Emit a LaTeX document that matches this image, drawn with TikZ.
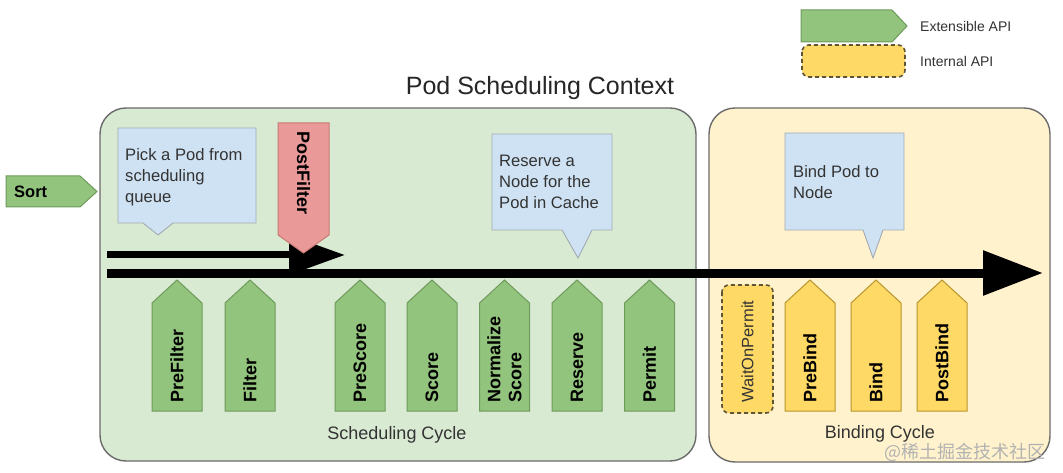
\documentclass[tikz,border=0pt]{standalone}
\usepackage{fontspec}
\setmainfont{Liberation Sans}
\newfontfamily\cjkfont{Noto Sans CJK SC}
\usetikzlibrary{arrows.meta}
\definecolor{boxline}{HTML}{6B6B6B}
\definecolor{schedfill}{HTML}{D9EAD3}
\definecolor{bindfill}{HTML}{FFF2CC}
\definecolor{stepgreen}{HTML}{93C47D}
\definecolor{stepgreenline}{HTML}{6E9A5C}
\definecolor{stepyellow}{HTML}{FFD966}
\definecolor{stepyellowline}{HTML}{B8962E}
\definecolor{postred}{HTML}{EA9999}
\definecolor{postredline}{HTML}{C77A74}
\definecolor{calloutblue}{HTML}{CFE2F3}
\definecolor{calloutline}{HTML}{A3ABB3}
\definecolor{textgray}{HTML}{333333}
\definecolor{dashline}{HTML}{5E5436}
\tikzset{
  ctxbox/.style={draw=boxline, line width=1.4pt, rounded corners=26pt},
  extshape/.style={fill=stepgreen, draw=stepgreenline, line width=1pt},
  intshape/.style={fill=stepyellow, draw=stepyellowline, line width=1pt},
  internalbox/.style={fill=stepyellow, draw=dashline, line width=1.6pt, dashed, dash pattern=on 4pt off 3pt, rounded corners=7pt},
  postshape/.style={fill=postred, draw=postredline, line width=1pt},
  calloutshape/.style={fill=calloutblue, draw=calloutline, line width=0.9pt},
  callouttext/.style={anchor=north west, align=left, inner sep=0pt, font=\fontsize{16.6}{21}\selectfont, text=textgray},
  steplabel/.style={rotate=90, anchor=west, inner sep=0pt, align=left, font=\fontsize{18}{21}\selectfont\bfseries},
  cyclelabel/.style={inner sep=0pt, font=\fontsize{18}{20}\selectfont, text=textgray},
  legendtext/.style={anchor=west, inner sep=0pt, font=\fontsize{14}{16}\selectfont, text=textgray},
  flowline/.style={draw=black},
}
\newcommand\upstep[4]{%
  \draw[#3] (#2-25,411) -- (#2-25,303) -- (#2,280) -- (#2+25,303) -- (#2+25,411) -- cycle;
  \node[steplabel] (#1) at (#2,403) {#4};
}
\begin{document}
\begin{tikzpicture}[x=1pt,y=-1pt]
\useasboundingbox (0,0) rectangle (1063,473);
\fill[white] (0,0) rectangle (1063,473);

% legend
\draw[extshape] (801,10) -- (892,10) -- (907,26) -- (892,42) -- (801,42) -- cycle;
\node[legendtext] (legext) at (920,26) {Extensible API};
\draw[internalbox] (802,45) rectangle (905,77);
\node[legendtext] (legint) at (920,61) {Internal API};

% title
\node[inner sep=0pt, font=\fontsize{25}{28}\selectfont, text=black!85] (title) at (540,88) {Pod Scheduling Context};

% context boxes
\draw[ctxbox, fill=schedfill] (100,108) rectangle (696,461);
\draw[ctxbox, fill=bindfill] (709,108) rectangle (1050,462);

% Sort
\draw[extshape] (6,176) -- (80,176) -- (97,191.5) -- (80,207) -- (6,207) -- cycle;
\node[anchor=west, inner sep=0pt, font=\fontsize{16.5}{18}\selectfont\bfseries] (sort) at (14,192) {Sort};

% callouts
\draw[calloutshape] (118,128) -- (256,128) -- (256,223) -- (173,223) -- (158,235) -- (143,223) -- (118,223) -- cycle;
\node[callouttext] (pick) at (125,148) {Pick a Pod from\\scheduling\\queue};
\draw[calloutshape] (492,134) -- (612,134) -- (612,230) -- (592,230) -- (578,258) -- (562,230) -- (492,230) -- cycle;
\node[callouttext] (reserveText) at (499,155) {Reserve a\\Node for the\\Pod in Cache};
\draw[calloutshape] (785,133) -- (904,133) -- (904,230) -- (883,230) -- (873,258) -- (863,230) -- (785,230) -- cycle;
\node[callouttext] (bindText) at (793,165) {Bind Pod to\\Node};

% flow arrows
\coordinate (upStart) at (107,255);
\coordinate (upEnd) at (345,255);
\draw[flowline, line width=7pt, -{Triangle[length=56pt,width=38pt]}] (upStart) -- (upEnd);
\coordinate (mainStart) at (107,273);
\coordinate (mainEnd) at (1043,273);
\draw[flowline, line width=9pt, -{Triangle[length=60pt,width=43pt]}] (mainStart) -- (mainEnd);

% PostFilter
\draw[postshape] (278,123) -- (329,123) -- (329,235) -- (303.5,253) -- (278,235) -- cycle;
\node[rotate=-90, anchor=west, inner sep=0pt, font=\fontsize{18}{21}\selectfont\bfseries] (postfilter) at (303.5,131) {PostFilter};

% scheduling steps
\upstep{prefilter}{177}{extshape}{PreFilter}
\upstep{filter}{250}{extshape}{Filter}
\upstep{prescore}{360}{extshape}{PreScore}
\upstep{score}{432}{extshape}{Score}
\upstep{normscore}{504.5}{extshape}{Normalize\\Score}
\upstep{reserve}{577}{extshape}{Reserve}
\upstep{permit}{649.5}{extshape}{Permit}

% binding steps
\draw[internalbox] (722,285) rectangle (773,413);
\node[rotate=90, anchor=west, inner sep=0pt, font=\fontsize{16.5}{19}\selectfont, text=textgray] (waitonpermit) at (747.5,403) {WaitOnPermit};
\upstep{prebind}{810}{intshape}{PreBind}
\upstep{bind}{876}{intshape}{Bind}
\upstep{postbind}{942}{intshape}{PostBind}

% cycle labels
\node[cyclelabel] (schedcycle) at (397,435) {Scheduling Cycle};
\node[cyclelabel] (bindcycle) at (880,434) {Binding Cycle};

% watermark
\node[anchor=east, inner sep=0pt, font=\cjkfont\fontsize{18}{20}\selectfont, text=black!30] (mark) at (1046,452) {@稀土掘金技术社区};
\end{tikzpicture}
\end{document}
